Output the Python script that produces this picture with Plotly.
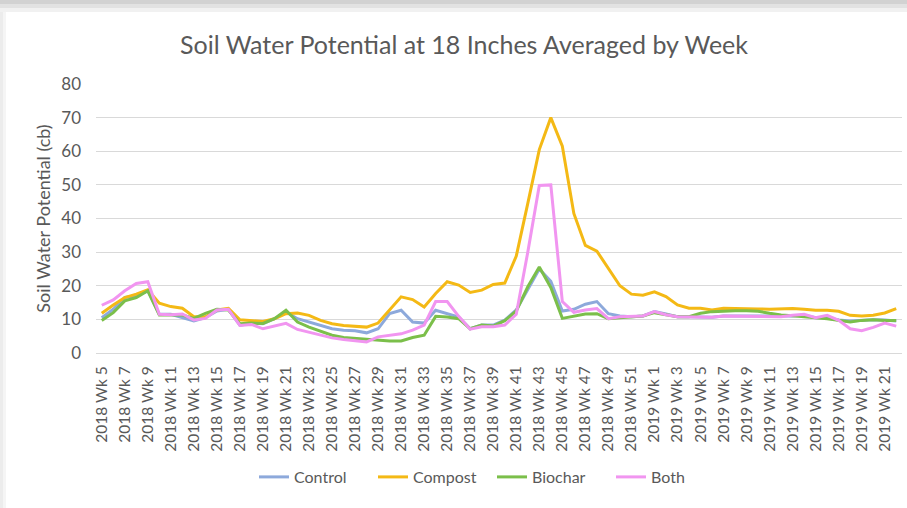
import plotly.graph_objects as go

# ---- data ----
weeks_2018 = [f"2018 Wk {w}" for w in range(5, 53)]
weeks_2019 = [f"2019 Wk {w}" for w in range(1, 23)]
categories = weeks_2018 + weeks_2019

control = [10.5, 13.0, 16.5, 17.0, 18.5, 11.5, 11.5, 10.5, 9.5, 10.5,
           12.5, 13.0, 8.2, 8.9, 8.7, 10.2, 12.2, 10.2, 9.2, 8.2,
           7.2, 6.8, 6.6, 6.0, 7.2, 11.7, 12.7, 9.2, 8.9, 12.7,
           11.7, 10.7, 7.2, 8.3, 8.3, 9.8, 12.8, 18.8, 25.0, 21.3,
           12.5, 13.0, 14.5, 15.3, 11.7, 11.0, 10.8, 11.0, 12.3, 11.6,
           10.8, 10.8, 10.8, 10.6, 11.0, 11.0, 11.0, 11.0, 11.0, 10.8,
           11.0, 11.2, 10.5, 10.5, 9.8, 9.5, 9.8, 9.9, 9.8, 9.5]

compost = [11.8, 14.3, 16.5, 17.5, 18.8, 14.8, 13.8, 13.3, 10.8, 10.8,
           12.8, 13.3, 9.9, 9.7, 9.4, 10.2, 11.7, 11.9, 11.2, 9.7,
           8.7, 8.2, 7.9, 7.7, 8.9, 12.9, 16.7, 15.9, 13.7, 17.7,
           21.2, 20.2, 18.0, 18.7, 20.4, 20.8, 28.8, 44.5, 60.5, 70.0,
           61.5, 41.5, 32.0, 30.3, 25.0, 20.0, 17.5, 17.2, 18.2, 16.8,
           14.3, 13.3, 13.3, 12.8, 13.3, 13.3, 13.3, 13.1, 13.0, 13.2,
           13.2, 13.0, 12.7, 12.7, 12.4, 11.2, 11.0, 11.2, 11.9, 13.2]

biochar = [9.7, 12.0, 15.5, 16.5, 18.5, 11.3, 11.3, 11.3, 10.3, 11.8,
           13.0, 12.8, 8.7, 8.9, 8.8, 10.2, 12.7, 9.2, 7.7, 6.6,
           5.3, 4.6, 4.3, 4.0, 3.8, 3.6, 3.6, 4.6, 5.3, 10.9,
           10.7, 10.2, 7.2, 8.3, 8.0, 9.6, 12.5, 19.7, 25.6, 19.5,
           10.3, 10.9, 11.6, 11.7, 10.2, 10.5, 10.8, 11.0, 12.0, 11.5,
           10.8, 10.8, 11.8, 12.3, 12.5, 12.6, 12.6, 12.4, 11.8, 11.3,
           11.1, 10.9, 10.5, 10.2, 9.7, 9.2, 9.7, 9.9, 9.7, 9.7]

both = [14.2, 15.8, 18.5, 20.7, 21.2, 11.5, 11.4, 11.6, 9.8, 10.3,
        12.8, 13.0, 8.2, 8.5, 7.2, 8.1, 8.8, 7.0, 6.2, 5.2,
        4.5, 4.0, 3.6, 3.3, 4.8, 5.3, 5.7, 6.8, 8.3, 15.3,
        15.3, 10.9, 7.1, 7.8, 7.8, 8.3, 11.5, 30.0, 49.8, 50.0,
        15.3, 12.1, 12.8, 13.2, 10.2, 10.8, 10.8, 11.0, 12.3, 11.4,
        10.8, 10.8, 10.8, 10.6, 11.0, 11.0, 11.0, 10.9, 10.8, 10.8,
        11.2, 11.5, 10.5, 11.2, 9.7, 7.2, 6.6, 7.6, 8.9, 8.0]

series_names = ["Control", "Compost", "Biochar", "Both"]
series_values = [control, compost, biochar, both]
series_colors = ["#8DA9DB", "#F4B915", "#7BBF4A", "#F195F0"]

y_ticks = [0, 10, 20, 30, 40, 50, 60, 70, 80]

# ---- layout constants ----
W, H = 907, 508
ML, MR, MT, MB = 96, 5, 84, 155
FONT = "Lato, Carlito, Calibri, sans-serif"
GRAY = "#595959"

fig = go.Figure()
for name, vals, col in zip(series_names, series_values, series_colors):
    fig.add_trace(go.Scatter(x=categories, y=vals, name=name, mode="lines",
                             line=dict(color=col, width=3)))

plot_h = H - MT - MB
plot_w = W - ML - MR
def py(px):  # pixel y (from top) -> paper y
    return (H - MB - px) / plot_h
def pxx(px):  # pixel x -> paper x
    return (px - ML) / plot_w

shapes = []
# screenshot card shadow (top and left edges)
for y0, y1, c in [(0, 4, "#d2d2d2"), (4, 8, "#e2e2e2"), (8, 12, "#f1f1f1")]:
    shapes.append(dict(type="rect", xref="paper", yref="paper",
                       x0=pxx(0), x1=pxx(W), y0=py(y1), y1=py(y0),
                       fillcolor=c, line=dict(width=0), layer="below"))
for x0, x1, c in [(0, 3, "#ececec"), (3, 6, "#f5f5f5")]:
    shapes.append(dict(type="rect", xref="paper", yref="paper",
                       x0=pxx(x0), x1=pxx(x1), y0=py(H), y1=py(12),
                       fillcolor=c, line=dict(width=0), layer="below"))

fig.update_layout(
    width=W, height=H,
    margin=dict(l=ML, r=MR, t=MT, b=MB, autoexpand=False),
    paper_bgcolor="white", plot_bgcolor="white",
    font=dict(family=FONT, color=GRAY, size=16),
    title=dict(text="Soil Water Potential at 18 Inches Averaged by Week",
               x=464 / W, xref="container", xanchor="center",
               y=1 - 45 / H, yref="container", yanchor="middle",
               font=dict(family=FONT, size=25, color=GRAY)),
    showlegend=True,
    legend=dict(orientation="h", x=pxx(492), xanchor="center",
                y=py(477), yanchor="middle",
                entrywidth=74, entrywidthmode="pixels",
                font=dict(family=FONT, size=16, color=GRAY),
                bgcolor="rgba(0,0,0,0)"),
    shapes=shapes,
    xaxis=dict(type="category", categoryorder="array", categoryarray=categories,
               range=[-0.5, len(categories) - 0.5], automargin=False,
               tickmode="array", tickvals=categories[::2], ticktext=categories[::2],
               tickangle=-90, tickfont=dict(family=FONT, size=15.5, color=GRAY),
               showgrid=False, showline=True, linecolor="#d9d9d9", linewidth=1,
               ticks="", ticklabelstandoff=6, zeroline=False),
    yaxis=dict(range=[0, 80], tickmode="array", tickvals=y_ticks, automargin=False,
               tickfont=dict(family=FONT, size=17, color=GRAY),
               showgrid=True, gridcolor="#d9d9d9", gridwidth=1,
               zeroline=False, showline=False, ticks="", ticklabelstandoff=14,
               title=dict(text="Soil Water Potential (cb)", standoff=5,
                          font=dict(family=FONT, size=18, color=GRAY))),
)

fig.write_html("out.html", config={"displayModeBar": False},
               post_script="document.body.style.margin='0';")
